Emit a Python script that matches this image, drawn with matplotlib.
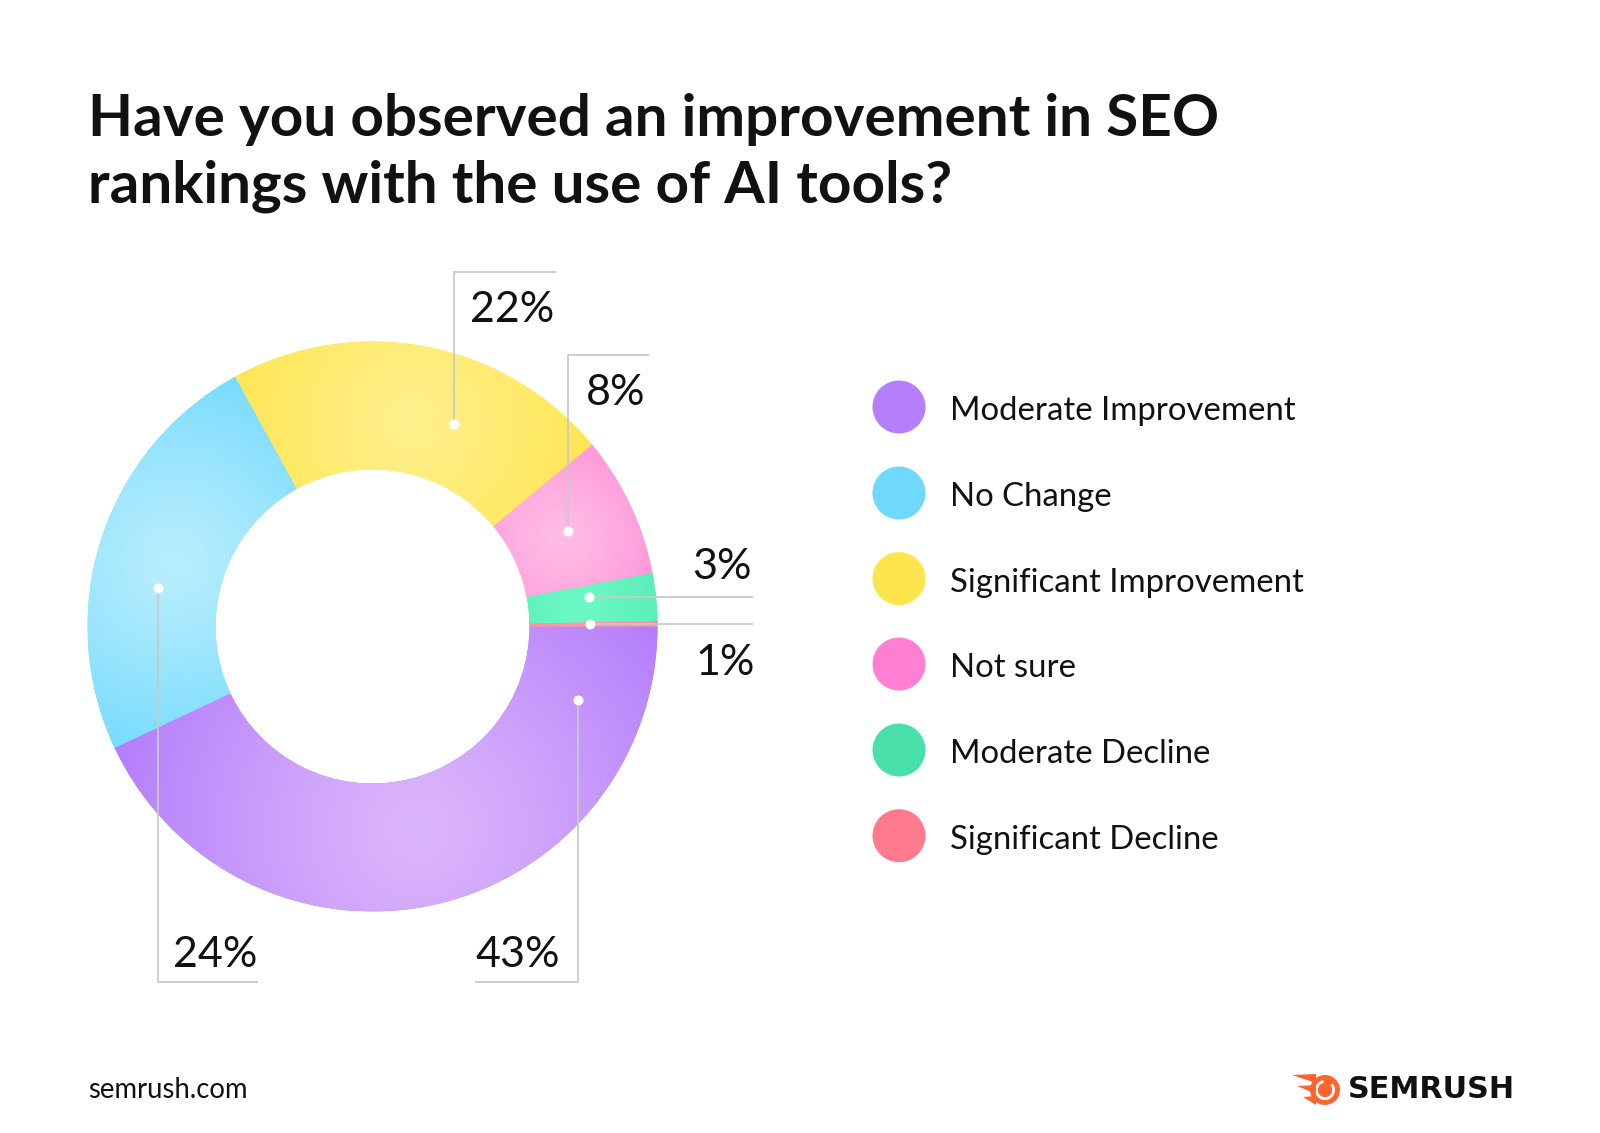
import numpy as np
import matplotlib.pyplot as plt
from matplotlib.colors import to_rgb
from matplotlib.patches import Circle, Wedge, Polygon

W, H = 1600, 1133

# survey answers, drawn shares (sum to 100) and the printed labels
categories = ["Moderate Improvement", "No Change", "Significant Improvement",
              "Not sure", "Moderate Decline", "Significant Decline"]
shares = [43, 24, 22, 8, 2.7, 0.3]
pct_labels = ["43%", "24%", "22%", "8%", "3%", "1%"]

base_colors = ["#b57ffb", "#6fd9fd", "#ffe54d", "#ff80d2", "#48e0a8", "#ff7a8c"]
light_colors = ["#dcb6fc", "#b9eefd", "#fff08c", "#ffbde6", "#6cf9c6", "#ff9aa8"]

plt.rcParams['font.family'] = ['Lato', 'DejaVu Sans']

fig = plt.figure(figsize=(16, 11.33), dpi=100)
ax = fig.add_axes([0, 0, 1, 1])

cx, cy = 372.5, H - 626.5
r_out, r_in = 285, 157

wedges, _ = ax.pie(shares, colors=base_colors, startangle=0, counterclock=False,
                   radius=r_out, center=(cx, cy),
                   wedgeprops=dict(width=r_out - r_in, linewidth=0))

# soft gradient inside each slice: light near the inner middle, saturated at the ends
ext = (cx - r_out, cx + r_out, cy - r_out, cy + r_out)
gx, gy = np.meshgrid(np.linspace(ext[0], ext[1], 600), np.linspace(ext[2], ext[3], 600))
for w, c0, c1 in zip(wedges, light_colors, base_colors):
    tm = np.radians((w.theta1 + w.theta2) / 2)
    half = np.radians(w.theta2 - w.theta1) / 2
    rc = r_in + 0.4 * (r_out - r_in)
    px, py = cx + rc * np.cos(tm), cy + rc * np.sin(tm)
    span = max(r_out * np.sin(min(half, np.pi / 2)) * 1.1, 150)
    t = np.clip(np.hypot(gx - px, gy - py) / span, 0, 1)[..., None] ** 1.2
    img = np.array(to_rgb(c0)) * (1 - t) + np.array(to_rgb(c1)) * t
    im = ax.imshow(img, extent=ext, origin='lower', zorder=2, interpolation='bilinear')
    im.set_clip_path(w)

# leader lines: dot angle, elbow y (None = straight), end x, label centre (image px)
leaders = [
    (-19.7, 982, 475, (518, 955)),
    (169.7, 982, 258, (215, 955)),
    (68.0, 272, 556, (512, 310)),
    (26.0, 355, 649, (616, 393)),
    (7.7, None, 753, (722, 567)),
    (0.6, None, 753, (725, 663)),
]
r_dot = 218
for lab, (ang, ey, ex, (tx, ty)) in zip(pct_labels, leaders):
    dx = cx + r_dot * np.cos(np.radians(ang))
    dy = cy + r_dot * np.sin(np.radians(ang))
    if ey is None:
        xs, ys = [dx, ex], [dy, dy]
    else:
        xs, ys = [dx, dx, ex], [dy, H - ey, H - ey]
    ax.plot(xs, ys, color="#c9c9c9", lw=1.3, zorder=3, solid_capstyle='butt')
    ax.plot(dx, dy, 'o', ms=7.2, color='white', mec='none', zorder=4)
    ax.text(tx, H - ty, lab, fontsize=31, ha='center', va='center', color='#111111')

# legend
leg_y = [407, 493, 578.6, 664, 750, 835.7]
for name, col, ly in zip(categories, base_colors, leg_y):
    ax.add_patch(Circle((899, H - ly), 26.5, color=col, lw=0))
    ax.text(950, H - ly - 4, name, fontsize=23.7, ha='left', va='center', color='#111111')

# title
ax.text(88, H - 119, "Have you observed an improvement in SEO", fontsize=42,
        fontweight='bold', ha='left', va='center', color='#111111')
ax.text(88, H - 186, "rankings with the use of AI tools?", fontsize=42,
        fontweight='bold', ha='left', va='center', color='#111111')

# footer
ax.text(88, H - 1090, "semrush.com", fontsize=19.8, ha='left', va='center', color='#111111')
ax.text(1348, H - 1090, "SEMRUSH", fontsize=21.8, fontweight='bold', ha='left',
        va='center', color='#111111', family='DejaVu Sans')
orange = "#ff642d"
ax.add_patch(Circle((1325, H - 1090), 15, color=orange, lw=0))
ax.add_patch(Wedge((1325, H - 1090), 10, 100, 400, width=2.8, color='white', lw=0))
for yy, x0 in [(1079, 1292), (1090, 1297), (1101, 1303)]:
    ax.add_patch(Polygon([[x0, H - yy + 4], [1316, H - yy + 5], [1316, H - yy - 4]],
                         closed=True, color=orange, lw=0))

ax.set_xlim(0, W)
ax.set_ylim(0, H)
ax.set_aspect('equal')
ax.axis('off')

fig.savefig("out.png", dpi=100, facecolor='white')
